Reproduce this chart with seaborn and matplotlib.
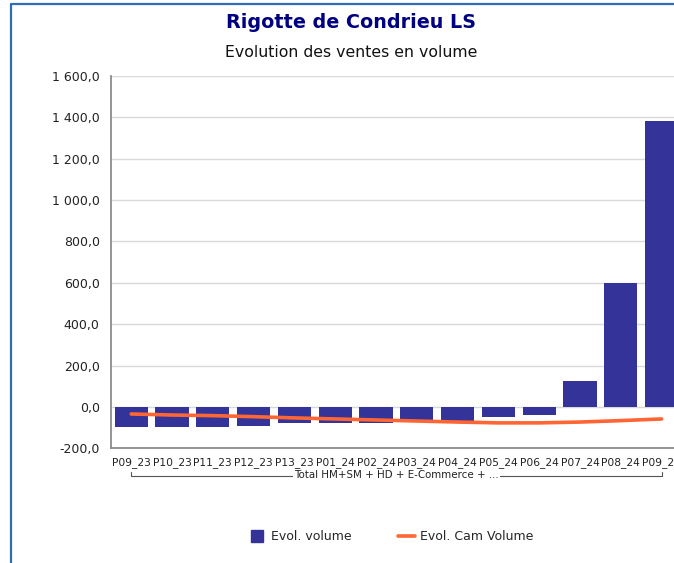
"""Rigotte de Condrieu LS - evolution des ventes en volume."""
import numpy as np
import pandas as pd
import seaborn as sns
import matplotlib.pyplot as plt
from matplotlib.lines import Line2D
from matplotlib.ticker import FuncFormatter, MultipleLocator

# data
periods = ['P09_23', 'P10_23', 'P11_23', 'P12_23', 'P13_23', 'P01_24', 'P02_24',
           'P03_24', 'P04_24', 'P05_24', 'P06_24', 'P07_24', 'P08_24', 'P09_24']
evol_volume = [-99, -99, -99, -94, -79, -79, -77, -61, -68, -50, -41, 127, 601, 1384]
evol_cam_volume = [-34, -39, -42, -47, -53, -58, -63, -68, -73, -77, -77, -73, -66, -58]
group_label = 'Total HM+SM + HD + E-Commerce + ...'

BAR_COLOR = '#333399'
LINE_COLOR = '#FF6633'

sns.set_style('white')
plt.rcParams['font.family'] = ['DejaVu Sans']

df = pd.DataFrame({'period': periods, 'vol': evol_volume, 'cam': evol_cam_volume})

fig = plt.figure(figsize=(6.74, 5.63), dpi=100)
ax = fig.add_axes([0.1644, 0.2037, 0.8475, 0.6613])

sns.barplot(data=df, x='period', y='vol', color=BAR_COLOR, saturation=1,
            width=0.81, linewidth=0, label='Evol. volume', ax=ax, zorder=2)
sns.lineplot(x=np.arange(len(periods)), y=df['cam'], color=LINE_COLOR, lw=2.6,
             label='Evol. Cam Volume', ax=ax, zorder=3)

ax.set_xlim(-0.5, len(periods) - 0.5)
ax.set_ylim(-200, 1600)
ax.yaxis.set_major_locator(MultipleLocator(200))
ax.yaxis.set_major_formatter(
    FuncFormatter(lambda v, p: f'{v:,.1f}'.replace(',', ' ').replace('.', ',')))
ax.yaxis.grid(True, color='#d9d9d9', lw=1)
ax.set_axisbelow(True)
ax.set_xlabel('')
ax.set_ylabel('')
ax.tick_params(axis='x', length=0, pad=6, labelsize=7.7, labelcolor='#222222')
ax.tick_params(axis='y', length=0, pad=8, labelsize=9, labelcolor='#222222')
for side in ['top', 'right']:
    ax.spines[side].set_visible(False)
for side in ['left', 'bottom']:
    ax.spines[side].set_color('#8c8c8c')
    ax.spines[side].set_linewidth(1.3)

# category group bracket under the tick labels
tr = ax.get_xaxis_transform()
ax.plot([0, 0, len(periods) - 1, len(periods) - 1], [-0.063, -0.0736, -0.0736, -0.063],
        transform=tr, color='#555555', lw=0.8, clip_on=False)
ax.text((len(periods) - 1) / 2, -0.0716, group_label, transform=tr, ha='center',
        va='center', fontsize=7.4, color='#222222', clip_on=False,
        bbox=dict(facecolor='white', edgecolor='none', pad=0.6))

# titles
fig.text(0.521, 0.950, 'Rigotte de Condrieu LS', ha='center', va='baseline',
         fontsize=13.8, fontweight='bold', color='#000080')
fig.text(0.521, 0.899, 'Evolution des ventes en volume', ha='center', va='baseline',
         fontsize=11.3, color='#111111')

# legend
ax.get_legend().remove()
handles = [Line2D([], [], marker='s', ls='', ms=8.6, color=BAR_COLOR),
           Line2D([], [], color=LINE_COLOR, lw=2.6)]
fig.legend(handles, ['Evol. volume', 'Evol. Cam Volume'], loc='center',
           bbox_to_anchor=(0.580, 0.0467), ncol=2, frameon=False, fontsize=9,
           handlelength=1.36, handletextpad=0.4, columnspacing=3.7)

# blue frame of the report widget
fig.add_artist(Line2D([11 / 674, 11 / 674, 1], [0, 1 - 4 / 563, 1 - 4 / 563],
                      color='#2f6db5', lw=1.6))

fig.savefig('out.png', dpi=100)
